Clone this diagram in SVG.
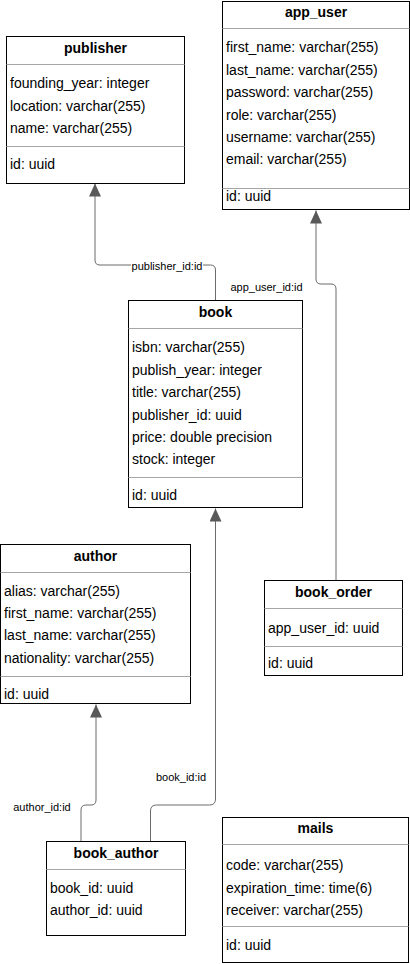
<svg xmlns="http://www.w3.org/2000/svg" width="410" height="964" viewBox="0 0 410 964">
<style>
.box{fill:#ffffff;stroke:#000000;stroke-width:1}
.sep{stroke:#a6a6a6;stroke-width:1}
.title{font-family:"Liberation Sans",Arial,Helvetica,sans-serif;font-size:14px;font-weight:bold;fill:#000;text-anchor:middle}
.row{font-family:"Liberation Sans",Arial,Helvetica,sans-serif;font-size:14px;fill:#000}
.edge{fill:none;stroke:#6b6b6b;stroke-width:1}
.lbl{font-family:"Liberation Sans",Arial,Helvetica,sans-serif;font-size:11px;fill:#000;text-anchor:middle}
</style>
<defs>
<marker id="arr" markerUnits="userSpaceOnUse" markerWidth="14" markerHeight="14" refX="13" refY="6" orient="auto">
<path d="M0,0 L13,6 L0,12 Z" fill="#595959"/>
</marker>
</defs>
<rect width="410" height="964" fill="#ffffff"/>

<g id="connectors">
<path class="edge" d="M215.5,300 V270 Q215.5,265 210.5,265 H100 Q95,265 95,260 V183.5" marker-end="url(#arr)"/>
<rect x="131" y="259" width="72" height="14" fill="#ffffff"/>
<text class="lbl" x="167" y="270">publisher_id:id</text>
<path class="edge" d="M336,580 V289 Q336,284 331,284 H321 Q316,284 316,279 V210.5" marker-end="url(#arr)"/>
<text class="lbl" x="266.5" y="291">app_user_id:id</text>
<path class="edge" d="M81,841 V810 Q81,805 86,805 H91 Q96,805 96,800 V704.5" marker-end="url(#arr)"/>
<text class="lbl" x="42" y="811">author_id:id</text>
<path class="edge" d="M150.5,841 V811 Q150.5,805 156.5,805 H209.5 Q215.5,805 215.5,799 V508.5" marker-end="url(#arr)"/>
<text class="lbl" x="181" y="781">book_id:id</text>
</g>

<g id="publisher">
<rect class="box" x="6.5" y="36.5" width="178" height="147"/>
<line class="sep" x1="6.5" y1="64.5" x2="184.5" y2="64.5"/>
<line class="sep" x1="6.5" y1="146.5" x2="184.5" y2="146.5"/>
<text class="title" x="95.5" y="53">publisher</text>
<text class="row" x="10" y="88">founding_year: integer</text>
<text class="row" x="10" y="110.5">location: varchar(255)</text>
<text class="row" x="10" y="133">name: varchar(255)</text>
<text class="row" x="10" y="169">id: uuid</text>
</g>

<g id="app_user">
<rect class="box" x="222.5" y="1.5" width="187" height="208"/>
<line class="sep" x1="222.5" y1="28.5" x2="409.5" y2="28.5"/>
<line class="sep" x1="222.5" y1="188.5" x2="409.5" y2="188.5"/>
<text class="title" x="316" y="17">app_user</text>
<text class="row" x="226" y="52">first_name: varchar(255)</text>
<text class="row" x="226" y="74.5">last_name: varchar(255)</text>
<text class="row" x="226" y="97">password: varchar(255)</text>
<text class="row" x="226" y="119.5">role: varchar(255)</text>
<text class="row" x="226" y="142">username: varchar(255)</text>
<text class="row" x="226" y="164">email: varchar(255)</text>
<text class="row" x="226" y="201">id: uuid</text>
</g>

<g id="book">
<rect class="box" x="128.5" y="300.5" width="174" height="207"/>
<line class="sep" x1="128.5" y1="328.5" x2="302.5" y2="328.5"/>
<line class="sep" x1="128.5" y1="477.5" x2="302.5" y2="477.5"/>
<text class="title" x="215.5" y="317">book</text>
<text class="row" x="132" y="352">isbn: varchar(255)</text>
<text class="row" x="132" y="374.5">publish_year: integer</text>
<text class="row" x="132" y="397">title: varchar(255)</text>
<text class="row" x="132" y="419.5">publisher_id: uuid</text>
<text class="row" x="132" y="441.5">price: double precision</text>
<text class="row" x="132" y="464">stock: integer</text>
<text class="row" x="132" y="499.5">id: uuid</text>
</g>

<g id="author">
<rect class="box" x="0.5" y="544.5" width="190" height="159"/>
<line class="sep" x1="0.5" y1="572.5" x2="190.5" y2="572.5"/>
<line class="sep" x1="0.5" y1="676.5" x2="190.5" y2="676.5"/>
<text class="title" x="95.5" y="561">author</text>
<text class="row" x="4" y="595.5">alias: varchar(255)</text>
<text class="row" x="4" y="617.5">first_name: varchar(255)</text>
<text class="row" x="4" y="640">last_name: varchar(255)</text>
<text class="row" x="4" y="663">nationality: varchar(255)</text>
<text class="row" x="4" y="699">id: uuid</text>
</g>

<g id="book_order">
<rect class="box" x="264.5" y="580.5" width="138" height="95"/>
<line class="sep" x1="264.5" y1="608.5" x2="402.5" y2="608.5"/>
<line class="sep" x1="264.5" y1="646.5" x2="402.5" y2="646.5"/>
<text class="title" x="333.5" y="597">book_order</text>
<text class="row" x="268" y="633">app_user_id: uuid</text>
<text class="row" x="268" y="668">id: uuid</text>
</g>

<g id="book_author">
<rect class="box" x="46.5" y="841.5" width="139" height="94"/>
<line class="sep" x1="46.5" y1="869.5" x2="185.5" y2="869.5"/>
<text class="title" x="116" y="858">book_author</text>
<text class="row" x="50" y="892.5">book_id: uuid</text>
<text class="row" x="50" y="915">author_id: uuid</text>
</g>

<g id="mails">
<rect class="box" x="222.5" y="817.5" width="186" height="145"/>
<line class="sep" x1="222.5" y1="844.5" x2="408.5" y2="844.5"/>
<line class="sep" x1="222.5" y1="926.5" x2="408.5" y2="926.5"/>
<text class="title" x="315.5" y="833">mails</text>
<text class="row" x="226" y="870">code: varchar(255)</text>
<text class="row" x="226" y="892.5">expiration_time: time(6)</text>
<text class="row" x="226" y="914.5">receiver: varchar(255)</text>
<text class="row" x="226" y="949.5">id: uuid</text>
</g>
</svg>
